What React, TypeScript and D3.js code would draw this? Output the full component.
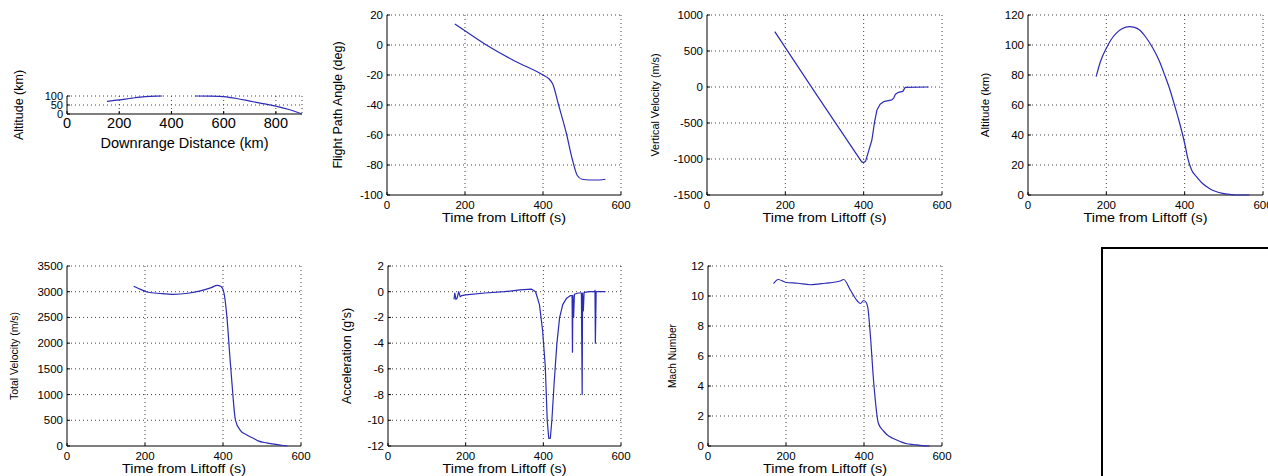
import React from "react";
import { scaleLinear, line, curveMonotoneX, curveLinear } from "d3";

// ---- data ----
const downrangeA = [153, 200, 250, 300, 340, 365];
const altRangeA = [70, 78, 88, 96, 99, 100];
const downrangeB = [490, 550, 600, 650, 700, 750, 800, 850, 900];
const altRangeB = [100, 99, 96, 86, 72, 58, 44, 25, 0];

const fpaTime = [174, 200, 255, 330, 400, 415, 425, 440, 460, 475, 488, 500, 520, 545, 560];
const fpaDeg = [14, 9.5, 0, -11, -20, -22.5, -26, -40, -59, -76, -87, -89.5, -90, -90, -89.5];

const vvTime = [173, 280, 395, 400, 405, 412, 421, 428, 434, 442, 451, 472, 477, 481, 489, 500, 506, 566];
const vvMs = [768, -110, -1040, -1050, -1030, -900, -736, -480, -319, -240, -204, -180, -150, -100, -74, -60, -5, 0];

const altTime = [174, 185, 200, 212, 225, 240, 259, 272, 285, 300, 319, 335, 349, 362, 374, 385, 395, 402, 408, 418, 430, 445, 463, 480, 497, 515, 531, 565];
const altKm = [78.9, 89, 97.8, 103.5, 107.8, 110.8, 112.2, 111.8, 110, 105.5, 97.8, 89.5, 80, 70.5, 60, 50, 40, 32, 24.4, 16.5, 12.2, 7.8, 4.4, 2.3, 1.1, 0.4, 0, 0];

const velTime = [171, 190, 205, 240, 273, 310, 342, 370, 385, 395, 402, 410, 417, 423, 432, 445, 460, 478, 490, 512, 535, 554, 565];
const velMs = [3105, 3040, 2995, 2965, 2950, 2970, 3015, 3080, 3125, 3100, 2990, 2510, 1800, 1220, 500, 300, 220, 150, 100, 60, 30, 10, 0];

const accTime = [170, 172, 175, 178, 182, 186, 190, 200, 250, 300, 340, 370, 380, 390, 398, 405, 410, 414, 418, 422, 428, 435, 442, 450, 460, 470, 474, 475, 476, 478, 480, 490, 498, 500, 501, 503, 505, 520, 532, 533, 534, 536, 545, 560];
const accG = [-0.6, -0.1, -0.6, -0.5, 0, -0.4, -0.3, -0.25, -0.1, 0.0, 0.15, 0.2, 0, -1, -3, -5.8, -10, -11.4, -11.4, -10, -7, -4, -2, -1, -0.5, -0.3, -0.3, -4.7, -0.3, -2, -0.2, -0.1, -0.1, -8, -0.1, -1.5, -0.05, 0, 0, 0.1, -4, 0, 0, 0];

const machTime = [168, 180, 201, 230, 262, 300, 339, 348, 365, 382, 391, 399, 405, 410, 416, 425, 437, 450, 459, 475, 493, 510, 527, 550, 568];
const machNum = [10.83, 11.1, 10.9, 10.85, 10.75, 10.85, 11.0, 11.1, 10.4, 9.7, 9.5, 9.7, 9.6, 9.2, 7.5, 4.2, 1.5, 1.0, 0.75, 0.5, 0.3, 0.15, 0.1, 0.03, 0];

const timeTicks = [0, 200, 400, 600];
const rangeTicks = [0, 200, 400, 600, 800];

const FONT = "'Liberation Sans', Arial, Helvetica, sans-serif";
const BLUE = "#2b2bb5";

type Series = { xs: number[]; ys: number[] };

type PanelProps = {
  left: number;
  right: number;
  top: number;
  bottom: number;
  xDomain: [number, number];
  yDomain: [number, number];
  xTicks: number[];
  yTicks: number[];
  series: Series[];
  smooth?: boolean;
  xLabel: string;
  yLabel: string;
  yLabelX: number;
  yLabelSize: number;
  fontSize?: number;
  yTickSize?: number;
  xTickDy?: number;
  xLabelDy?: number;
  xLabelSize?: number;
  xLabelLen?: number;
};

function Panel(p: PanelProps) {
  const fs = p.fontSize ?? 11.5;
  const x = scaleLinear().domain(p.xDomain).range([p.left, p.right]);
  const y = scaleLinear().domain(p.yDomain).range([p.bottom, p.top]);
  const gen = line<[number, number]>()
    .x((d) => x(d[0]))
    .y((d) => y(d[1]))
    .curve(p.smooth ? curveMonotoneX : curveLinear);
  const midY = (p.top + p.bottom) / 2;
  const midX = (p.left + p.right) / 2;
  const gridX = p.xTicks
    .filter((t) => t !== p.xDomain[0])
    .concat(p.xTicks.includes(p.xDomain[1]) ? [] : [p.xDomain[1]]);
  return (
    <g fontFamily={FONT} fill="#000">
      {gridX.map((t) => (
        <line key={"gx" + t} x1={x(t)} x2={x(t)} y1={p.top} y2={p.bottom}
          stroke="#444" strokeWidth={1} strokeDasharray="1,3" />
      ))}
      {p.yTicks
        .filter((t) => t !== p.yDomain[0])
        .map((t) => (
          <line key={"gy" + t} x1={p.left} x2={p.right} y1={y(t)} y2={y(t)}
            stroke="#444" strokeWidth={1} strokeDasharray="1,3" />
        ))}
      <line x1={p.left} x2={p.left} y1={p.top} y2={p.bottom} stroke="#000" />
      <line x1={p.left} x2={p.right} y1={p.bottom} y2={p.bottom} stroke="#000" />
      {p.xTicks.map((t) => (
        <g key={"tx" + t}>
          <line x1={x(t)} x2={x(t)} y1={p.bottom} y2={p.bottom - 3} stroke="#000" />
          <text x={x(t)} y={p.bottom + (p.xTickDy ?? 14)} fontSize={fs} textAnchor="middle">{String(t)}</text>
        </g>
      ))}
      {p.yTicks.map((t) => (
        <g key={"ty" + t}>
          <line x1={p.left} x2={p.left + 3} y1={y(t)} y2={y(t)} stroke="#000" />
          <text x={p.left - 4} y={y(t)} dy="0.35em" fontSize={p.yTickSize ?? fs} textAnchor="end">{String(t)}</text>
        </g>
      ))}
      <text x={midX} y={p.bottom + (p.xLabelDy ?? 27)} fontSize={p.xLabelSize ?? 12.5} textAnchor="middle"
        textLength={p.xLabelLen ?? 124} lengthAdjust="spacingAndGlyphs">{p.xLabel}</text>
      <text transform={`translate(${p.yLabelX},${midY}) rotate(-90)`} fontSize={p.yLabelSize}
        textAnchor="middle" dy="0.35em">{p.yLabel}</text>
      {p.series.map((s, i) => (
        <path key={"s" + i}
          d={gen(s.xs.map((v, j) => [v, s.ys[j]] as [number, number])) ?? ""}
          fill="none" stroke={BLUE} strokeWidth={1.2} strokeLinejoin="round" />
      ))}
    </g>
  );
}

export default function App() {
  return (
    <svg width={1268} height={476} style={{ position: "absolute", left: 0, top: 0, background: "#fff" }}>
      <rect width={1268} height={476} fill="#fff" />
      <Panel left={67} right={302} top={96} bottom={114}
        xDomain={[0, 900]} yDomain={[0, 100]} xTicks={rangeTicks} yTicks={[0, 50, 100]}
        series={[{ xs: downrangeA, ys: altRangeA }, { xs: downrangeB, ys: altRangeB }]} smooth
        xLabel="Downrange Distance (km)" yLabel="Altitude (km)" yLabelX={19} yLabelSize={12.5}
        fontSize={14.5} yTickSize={11} xTickDy={14} xLabelDy={34} xLabelSize={14} xLabelLen={168} />
      <Panel left={387} right={621} top={15} bottom={195}
        xDomain={[0, 600]} yDomain={[-100, 20]} xTicks={timeTicks} yTicks={[-100, -80, -60, -40, -20, 0, 20]}
        series={[{ xs: fpaTime, ys: fpaDeg }]} smooth
        xLabel="Time from Liftoff (s)" yLabel="Flight Path Angle (deg)" yLabelX={338} yLabelSize={12.5} />
      <Panel left={707} right={942} top={15} bottom={195}
        xDomain={[0, 600]} yDomain={[-1500, 1000]} xTicks={timeTicks} yTicks={[-1500, -1000, -500, 0, 500, 1000]}
        series={[{ xs: vvTime, ys: vvMs }]}
        xLabel="Time from Liftoff (s)" yLabel="Vertical Velocity (m/s)" yLabelX={655} yLabelSize={10.8} />
      <Panel left={1028} right={1263} top={15} bottom={195}
        xDomain={[0, 600]} yDomain={[0, 120]} xTicks={timeTicks} yTicks={[0, 20, 40, 60, 80, 100, 120]}
        series={[{ xs: altTime, ys: altKm }]} smooth
        xLabel="Time from Liftoff (s)" yLabel="Altitude (km)" yLabelX={985} yLabelSize={11.5} />
      <Panel left={67} right={301} top={266} bottom={446}
        xDomain={[0, 600]} yDomain={[0, 3500]} xTicks={timeTicks} yTicks={[0, 500, 1000, 1500, 2000, 2500, 3000, 3500]}
        series={[{ xs: velTime, ys: velMs }]} smooth
        xLabel="Time from Liftoff (s)" yLabel="Total Velocity (m/s)" yLabelX={14} yLabelSize={10.5} />
      <Panel left={388} right={621} top={266} bottom={446}
        xDomain={[0, 600]} yDomain={[-12, 2]} xTicks={timeTicks} yTicks={[-12, -10, -8, -6, -4, -2, 0, 2]}
        series={[{ xs: accTime, ys: accG }]}
        xLabel="Time from Liftoff (s)" yLabel="Acceleration (g's)" yLabelX={347} yLabelSize={12.5} />
      <Panel left={708} right={942} top={266} bottom={446}
        xDomain={[0, 600]} yDomain={[0, 12]} xTicks={timeTicks} yTicks={[0, 2, 4, 6, 8, 10, 12]}
        series={[{ xs: machTime, ys: machNum }]} smooth
        xLabel="Time from Liftoff (s)" yLabel="Mach Number" yLabelX={672} yLabelSize={10.2} />
      <rect x={1102} y={248} width={200} height={260} fill="none" stroke="#000" strokeWidth={2} />
    </svg>
  );
}
